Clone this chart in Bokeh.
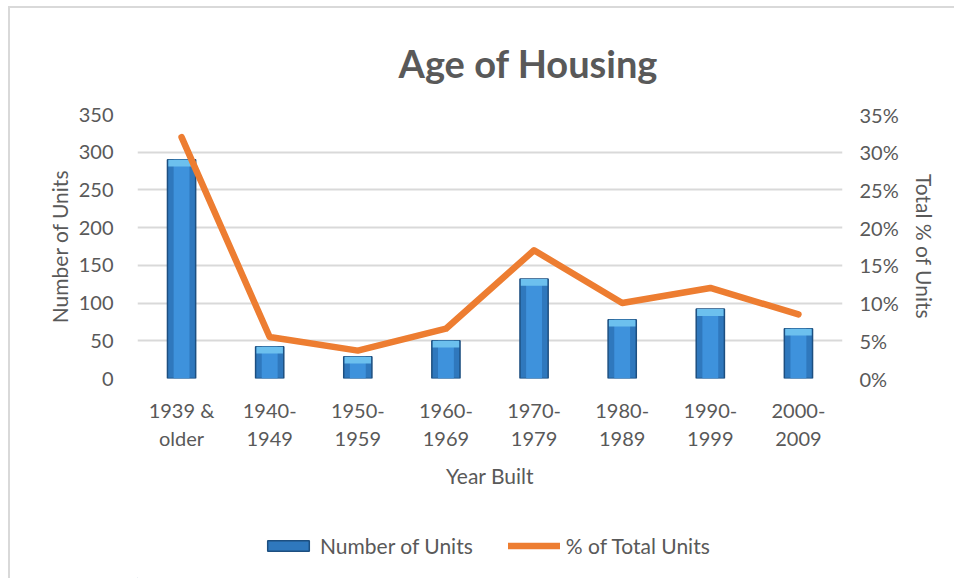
from bokeh.plotting import figure
from bokeh.layouts import column
from bokeh.models import (FactorRange, Range1d, LinearAxis, FixedTicker,
                          NumeralTickFormatter, Legend, LegendItem, Title)
from bokeh.embed import file_html
from bokeh.resources import INLINE

# ---- data ----
categories = ["1939 &\nolder", "1940-\n1949", "1950-\n1959", "1960-\n1969",
              "1970-\n1979", "1980-\n1989", "1990-\n1999", "2000-\n2009"]
units = [290, 42, 29, 50, 132, 78, 92, 66]
pct_units = [0.32, 0.055, 0.037, 0.066, 0.17, 0.10, 0.12, 0.085]
left_ticks = [0, 50, 100, 150, 200, 250, 300, 350]
right_ticks = [0, 0.05, 0.10, 0.15, 0.20, 0.25, 0.30, 0.35]
legend_labels = ["Number of Units", "% of Total Units"]

FONT = "Lato"
TXT = "#595959"
BAR_FILL = "#2f78bd"
BAR_LINE = "#1d4f80"
LINE_COL = "#ed7d31"

p = figure(width=944, height=490, x_range=FactorRange(*categories, range_padding=0),
           y_range=Range1d(0, 350), output_backend="svg", toolbar_location=None,
           min_border_left=127, min_border_right=112, min_border_top=105,
           min_border_bottom=120)
p.outline_line_color = None
p.background_fill_color = "white"
p.border_fill_color = "white"

p.add_layout(Title(text="Age of Housing", align="left", offset=261, standoff=58,
                   text_font=FONT, text_font_size="38px", text_font_style="bold",
                   text_color=TXT), "above")

p.extra_y_ranges = {"pct": Range1d(0, 0.35)}

# gridlines
p.xgrid.grid_line_color = None
p.ygrid.grid_line_color = "#d9d9d9"
p.ygrid.grid_line_width = 2
p.ygrid.ticker = FixedTicker(ticks=left_ticks)


def style_axis(a):
    a.axis_line_color = None
    a.major_tick_line_color = None
    a.minor_tick_line_color = None
    a.major_label_text_font = FONT
    a.major_label_text_font_size = "20px"
    a.major_label_text_color = TXT
    a.axis_label_text_font = FONT
    a.axis_label_text_font_size = "21px"
    a.axis_label_text_color = TXT
    a.axis_label_text_font_style = "normal"


# left axis
ax = p.yaxis[0]
ax.ticker = FixedTicker(ticks=left_ticks)
ax.axis_label = "Number of Units"
style_axis(ax)
ax.major_label_standoff = 18
ax.axis_label_standoff = 4

# right axis
rax = LinearAxis(y_range_name="pct", ticker=FixedTicker(ticks=right_ticks),
                 formatter=NumeralTickFormatter(format="0%"),
                 axis_label="Total % of Units")
style_axis(rax)
rax.major_label_standoff = 11
rax.axis_label_standoff = 10
p.add_layout(rax, "right")

# x axis
xax = p.xaxis[0]
style_axis(xax)
xax.axis_label = "Year Built"
xax.major_label_standoff = 13
xax.axis_label_standoff = 10

# bars
p.vbar(x=categories, top=units, width=0.32, bottom=0,
       fill_color=BAR_FILL, line_color=BAR_LINE, line_width=1.5)
p.vbar(x=categories, top=units, width=0.18, bottom=0,
       fill_color="#3e92dc", line_color=None)
caps = [u - 9 for u in units]
p.vbar(x=categories, top=units, bottom=caps, width=0.30,
       fill_color="#6cc0ee", line_color=None)

# line
p.line(x=categories, y=pct_units, y_range_name="pct",
       line_color=LINE_COL, line_width=6.5, line_join="round", line_cap="round")

# ---- legend strip (separate figure below the chart) ----
lg = figure(width=944, height=80, x_range=Range1d(0, 1), y_range=Range1d(0, 1),
            output_backend="svg", toolbar_location=None, min_border=0)
lg.axis.visible = False
lg.grid.visible = False
lg.outline_line_color = None
lg.border_fill_color = "white"
# renderers whose point lies far outside the visible range: only their legend swatches show
leg_bar = lg.vbar(x=[-500], top=[-499], bottom=[-500], width=0.3, fill_color=BAR_FILL,
                  line_color=BAR_LINE, line_width=1.5)
leg_line = lg.line(x=[-500, -499], y=[-500, -500], line_color=LINE_COL, line_width=6.5,
                   line_cap="round")
legend = Legend(items=[LegendItem(label=legend_labels[0], renderers=[leg_bar]),
                       LegendItem(label=legend_labels[1], renderers=[leg_line])],
                location=(125, 20), orientation="horizontal",
                glyph_width=52, glyph_height=13, spacing=35, label_standoff=6,
                border_line_color=None, background_fill_alpha=0,
                label_text_font=FONT, label_text_font_size="21px",
                label_text_color=TXT, padding=4, margin=0)
lg.add_layout(legend)

page = column(p, lg, spacing=0,
              styles={"margin-left": "8px", "margin-top": "6px",
                      "border-left": "2px solid #d9d9d9",
                      "border-top": "2px solid #d9d9d9"})

open("out.html", "w").write(file_html(page, INLINE))
